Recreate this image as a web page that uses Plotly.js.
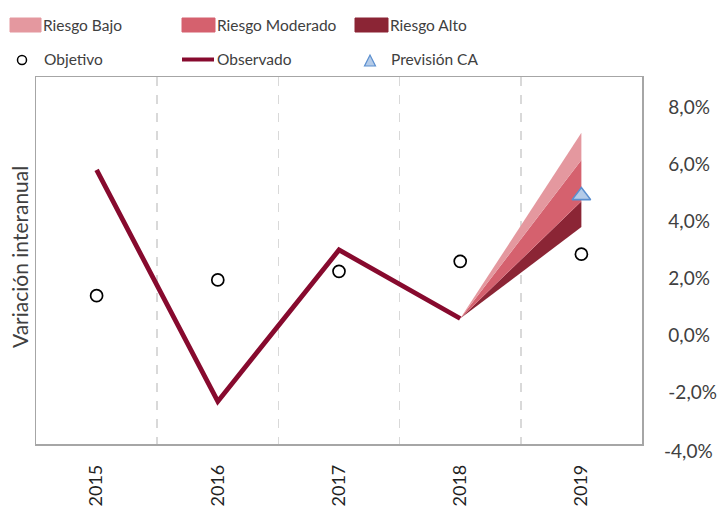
<!DOCTYPE html>
<html>
<head>
<meta charset="utf-8">
<script src="https://cdn.plot.ly/plotly-3.0.1.min.js"></script>
<style>html,body{margin:0;padding:0;background:#fff;}#chart{width:720px;height:508px;}</style>
</head>
<body>
<div id="chart"></div>
<script>
// ---- data ----
var years = ['2015', '2016', '2017', '2018', '2019'];
var observedYears = ['2015', '2016', '2017', '2018'];
var observado = [5.8, -2.3, 3.0, 0.6];
var objetivo = [1.4, 1.95, 2.25, 2.6, 2.85];
var previsionYears = ['2019'];
var previsionCA = [4.9];
var fanYears = ['2018', '2019'];
var fanBase = [0.6, 3.8];
var riesgoAlto = [0.6, 4.7];
var riesgoModerado = [0.6, 6.15];
var riesgoBajo = [0.6, 7.1];
var yTickVals = [-4, -2, 0, 2, 4, 6, 8];
var yTickText = ['-4,0%', '-2,0%', '0,0%', '2,0%', '4,0%', '6,0%', '8,0%'];
var legendNames = ['Riesgo Bajo', 'Riesgo Moderado', 'Riesgo Alto', 'Objetivo', 'Observado', 'Previsión CA'];

// ---- styles ----
var cLight = '#E4989F', cMod = '#D5616E', cDark = '#8B2535', cLine = '#870A2E';
var triFill = '#B4CBE8', triLine = '#5B8FCF';
var FONT = 'Lato, "Open Sans", sans-serif';
var txtColor = '#404040';
var legendSize = 15.5;

var W = 720, H = 508;
var M = {l: 36, r: 78, t: 77, b: 64};
var yMin = -3.79, yMax = 9.05;

function px(x) { return (x - M.l) / (W - M.l - M.r); }
function py(y) { return (H - M.b - y) / (H - M.t - M.b); }

var traces = [
  {x: fanYears, y: fanBase, type: 'scatter', mode: 'lines', line: {width: 0}, showlegend: false, hoverinfo: 'skip'},
  {x: fanYears, y: riesgoAlto, type: 'scatter', mode: 'lines', line: {width: 0}, fill: 'tonexty', fillcolor: cDark, name: legendNames[2], showlegend: false},
  {x: fanYears, y: riesgoModerado, type: 'scatter', mode: 'lines', line: {width: 0}, fill: 'tonexty', fillcolor: cMod, name: legendNames[1], showlegend: false},
  {x: fanYears, y: riesgoBajo, type: 'scatter', mode: 'lines', line: {width: 0}, fill: 'tonexty', fillcolor: cLight, name: legendNames[0], showlegend: false},
  {x: observedYears, y: observado, type: 'scatter', mode: 'lines', line: {color: cLine, width: 4.8}, name: legendNames[4], showlegend: false},
  {x: years, y: objetivo, type: 'scatter', mode: 'markers', marker: {symbol: 'circle-open', size: 12, color: '#000', line: {width: 1.7, color: '#000'}}, name: legendNames[3], showlegend: false},
  {x: previsionYears, y: previsionCA, type: 'scatter', mode: 'markers', marker: {symbol: 'triangle-up', size: 16, color: triFill, line: {width: 1.6, color: triLine}}, name: legendNames[5], showlegend: false}
];

// ---- manual legend ----
var shapes = [];
var annotations = [];
function rectPx(x0, x1, y0, y1, color) {
  shapes.push({type: 'rect', xref: 'paper', yref: 'paper', x0: px(x0), x1: px(x1), y0: py(y1), y1: py(y0),
    fillcolor: color, line: {width: 1, color: color}, layer: 'above'});
}
function label(x, y, t) {
  annotations.push({xref: 'paper', yref: 'paper', x: px(x), y: py(y), xanchor: 'left', yanchor: 'middle',
    text: t, showarrow: false, font: {family: FONT, size: legendSize, color: txtColor}, borderpad: 0});
}
rectPx(10, 41, 18, 32, cLight); label(42, 25, legendNames[0]);
rectPx(182, 215, 18, 32, cMod); label(216, 25, legendNames[1]);
rectPx(355, 388, 18, 32, cDark); label(389, 25, legendNames[2]);
shapes.push({type: 'circle', xref: 'paper', yref: 'paper', x0: px(17.5), x1: px(26.5), y0: py(64.5), y1: py(55.5),
  line: {color: '#000', width: 1.5}, fillcolor: 'rgba(0,0,0,0)'});
label(43, 59, legendNames[3]);
shapes.push({type: 'line', xref: 'paper', yref: 'paper', x0: px(182), x1: px(214), y0: py(59.5), y1: py(59.5),
  line: {color: cLine, width: 4}});
label(216, 59, legendNames[4]);
shapes.push({type: 'path', xref: 'paper', yref: 'paper',
  path: 'M' + px(364.5) + ',' + py(66) + ' L' + px(375.5) + ',' + py(66) + ' L' + px(370) + ',' + py(55) + ' Z',
  fillcolor: triFill, line: {color: triLine, width: 1.2}});
label(390, 59, legendNames[5]);

// -4,0% label (just below the plotted range)
annotations.push({xref: 'paper', yref: 'paper', x: 1, y: (yTickVals[0] - yMin) / (yMax - yMin),
  xanchor: 'left', yanchor: 'middle', xshift: 21, text: yTickText[0], showarrow: false,
  font: {family: FONT, size: 19, color: txtColor}, borderpad: 0});

var layout = {
  width: W, height: H,
  margin: M,
  paper_bgcolor: '#fff', plot_bgcolor: '#fff',
  showlegend: false,
  font: {family: FONT, size: 17, color: txtColor},
  xaxis: {
    type: 'category', categoryarray: years, range: [-0.5, 4.5],
    tickson: 'boundaries', showgrid: true, gridcolor: '#D9D9D9', griddash: 'dash', gridwidth: 1.5,
    showline: true, mirror: true, linecolor: '#A6A6A6', linewidth: 1.5,
    ticks: '', tickangle: -90, ticklabelstandoff: 12,
    tickfont: {family: FONT, size: 18, color: '#1f1f1f'},
    zeroline: false, fixedrange: true
  },
  yaxis: {
    range: [yMin, yMax], side: 'right',
    tickvals: yTickVals, ticktext: yTickText,
    showgrid: false, zeroline: false,
    showline: true, mirror: true, linecolor: '#A6A6A6', linewidth: 1.5,
    ticks: '', ticklabelstandoff: 21,
    tickfont: {family: FONT, size: 19, color: txtColor},
    fixedrange: true
  },
  shapes: shapes,
  annotations: annotations.concat([{
    xref: 'paper', yref: 'paper', x: px(19), y: py(257), xanchor: 'center', yanchor: 'middle',
    text: 'Variación interanual', textangle: -90, showarrow: false,
    font: {family: FONT, size: 21, color: txtColor}
  }])
};

Plotly.newPlot('chart', traces, layout, {displayModeBar: false, staticPlot: true});
</script>
</body>
</html>
